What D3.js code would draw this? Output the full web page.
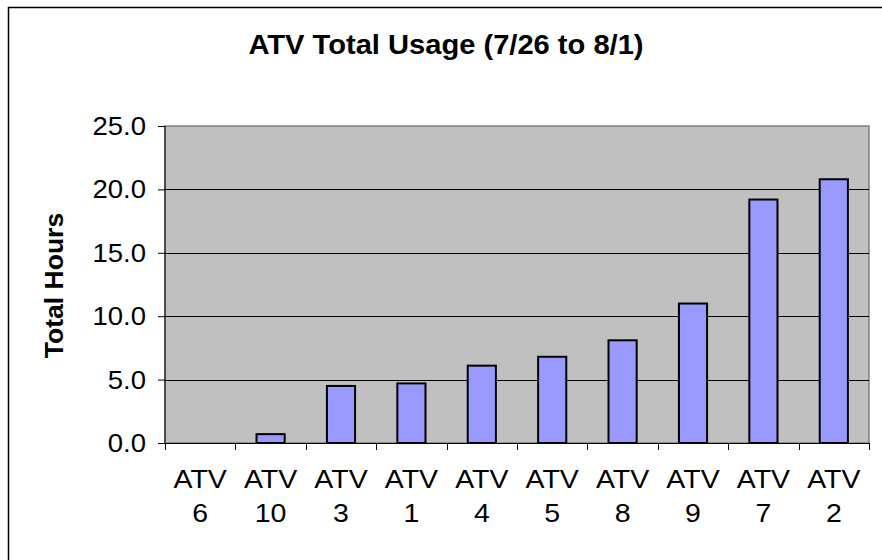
<!DOCTYPE html>
<html>
<head>
<meta charset="utf-8">
<script src="https://cdn.jsdelivr.net/npm/d3@7"></script>
<style>
  html, body { margin: 0; padding: 0; background: #fff; }
  svg { display: block; }
  text { font-family: "Liberation Sans", Arial, sans-serif; fill: #000; }
</style>
</head>
<body>
<svg id="chart" width="882" height="560"></svg>
<script>
// ATV usage totals, sorted ascending
const categories = ["ATV 6", "ATV 10", "ATV 3", "ATV 1", "ATV 4", "ATV 5", "ATV 8", "ATV 9", "ATV 7", "ATV 2"];
const hours = [0.0, 0.7, 4.5, 4.7, 6.1, 6.8, 8.1, 11.0, 19.2, 20.8];
const yTicks = [0, 5, 10, 15, 20, 25];
const title = "ATV Total Usage (7/26 to 8/1)";
const yTitle = "Total Hours";

const svg = d3.select("#chart");
const plot = { left: 165, top: 126, right: 869, bottom: 443 };
const stretch = 1.1; // labels are drawn slightly wide

// outer chart frame (runs off the right and bottom edges)
svg.append("rect")
  .attr("x", 8.5).attr("y", 7.5)
  .attr("width", 900).attr("height", 600)
  .attr("fill", "#fff").attr("stroke", "#000").attr("stroke-width", 1.5);

const x = d3.scaleBand()
  .domain(categories)
  .range([plot.left, plot.right])
  .paddingInner(0.6)
  .paddingOuter(0.3);

// category boundaries for the tick marks
const xEdge = d3.scaleLinear().domain([0, categories.length]).range([plot.left, plot.right]);

const y = d3.scaleLinear().domain([0, 25]).range([plot.bottom, plot.top]);

// plot background
svg.append("rect")
  .attr("x", plot.left).attr("y", plot.top)
  .attr("width", plot.right - plot.left).attr("height", plot.bottom - plot.top)
  .attr("fill", "#c0c0c0").attr("stroke", "#808080").attr("stroke-width", 1.5);

// gridlines
svg.append("g")
  .selectAll("line")
  .data(yTicks.filter(v => v > 0 && v < 25))
  .join("line")
  .attr("x1", plot.left).attr("x2", plot.right)
  .attr("y1", d => Math.round(y(d)) + 0.5).attr("y2", d => Math.round(y(d)) + 0.5)
  .attr("stroke", "#000").attr("stroke-width", 1);

// bars
svg.append("g")
  .selectAll("rect")
  .data(hours.map((v, i) => ({ cat: categories[i], v })).filter(d => d.v > 0))
  .join("rect")
  .attr("x", d => x(d.cat))
  .attr("y", d => y(d.v))
  .attr("width", x.bandwidth())
  .attr("height", d => y(0) - y(d.v))
  .attr("fill", "#9999ff")
  .attr("stroke", "#000")
  .attr("stroke-width", 2);

// y axis
const yAxis = svg.append("g")
  .attr("transform", `translate(${plot.left},0)`)
  .call(d3.axisLeft(y).tickValues(yTicks).tickSize(7).tickFormat(""));
yAxis.selectAll("path, line").attr("stroke", "#000");
yAxis.select(".domain").attr("d", `M0,${plot.top}V${plot.bottom}`);

svg.append("g")
  .selectAll("text")
  .data(yTicks)
  .join("text")
  .attr("transform", d => `translate(146,${y(d) + 9}) scale(${stretch},1)`)
  .attr("text-anchor", "end")
  .attr("font-size", 25)
  .text(d3.format(".1f"));

// x axis line and category ticks
svg.append("line")
  .attr("x1", plot.left).attr("x2", plot.right)
  .attr("y1", plot.bottom + 0.5).attr("y2", plot.bottom + 0.5)
  .attr("stroke", "#000");
svg.append("g")
  .selectAll("line")
  .data(d3.range(categories.length + 1))
  .join("line")
  .attr("x1", d => Math.round(xEdge(d)) + 0.5).attr("x2", d => Math.round(xEdge(d)) + 0.5)
  .attr("y1", plot.bottom).attr("y2", plot.bottom + 7)
  .attr("stroke", "#000");

// two-line category labels
const xl = svg.append("g")
  .selectAll("text")
  .data(categories)
  .join("text")
  .attr("transform", d => `translate(${x(d) + x.bandwidth() / 2},0) scale(1.14,1)`)
  .attr("text-anchor", "middle")
  .attr("font-size", 25);
xl.each(function (d) {
  const parts = d.split(" ");
  const t = d3.select(this);
  t.append("tspan").attr("x", 0).attr("y", 488).text(parts[0]);
  t.append("tspan").attr("x", 0).attr("y", 522).text(parts[1]);
});

// titles
svg.append("text")
  .attr("transform", `translate(446,54) scale(1.04,1)`)
  .attr("text-anchor", "middle")
  .attr("font-size", 28).attr("font-weight", "bold")
  .text(title);

svg.append("text")
  .attr("transform", `translate(63,${(plot.top + plot.bottom) / 2 + 1}) rotate(-90)`)
  .attr("text-anchor", "middle")
  .attr("font-size", 26.5).attr("font-weight", "bold")
  .text(yTitle);
</script>
</body>
</html>
